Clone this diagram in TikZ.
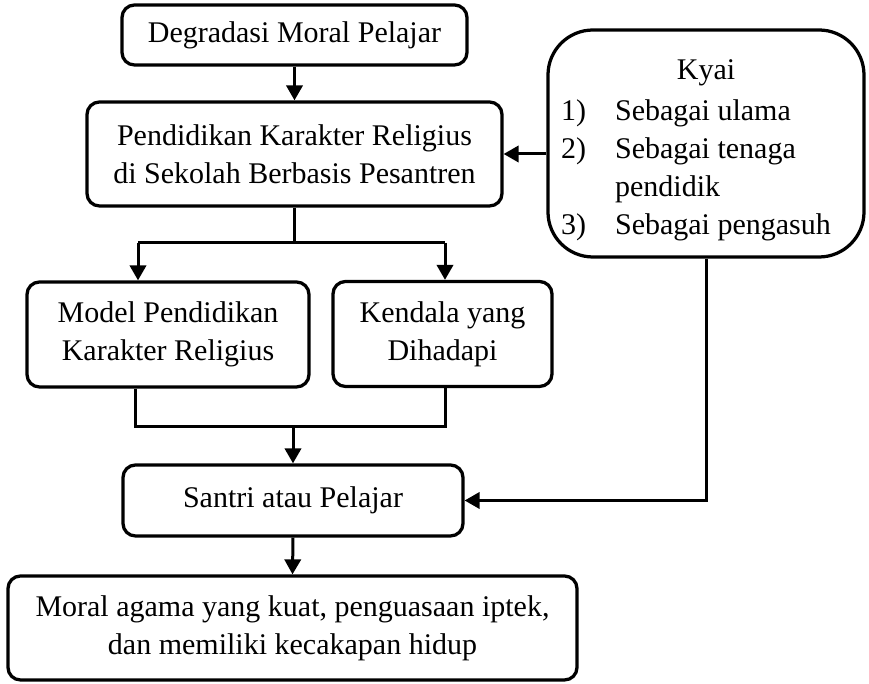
\documentclass[tikz,border=0pt]{standalone}
\usepackage{fontspec}
\setmainfont{Liberation Serif}
\usetikzlibrary{positioning,arrows.meta}
\tikzset{
  box/.style={draw, line width=1.3pt, rounded corners=5pt, align=center,
    inner sep=0pt, font=\fontsize{12}{15.3}\selectfont},
  kyaibox/.style={box, rounded corners=18pt},
  line/.style={line width=1.2pt},
  arr/.style={line, -{Triangle[length=6pt,width=6.5pt]}}
}

\begin{document}
\begin{tikzpicture}[x=0.4pt,y=-0.4pt]
  \useasboundingbox (0,0) rectangle (869,684);

  % Boxes
  \node[box, minimum width=138pt, minimum height=24pt] (degr) at (294.5,35)
    {Degradasi Moral Pelajar};
  \node[box, minimum width=166pt, minimum height=41.6pt] (pend) at (294.5,154)
    {Pendidikan Karakter Religius\\di Sekolah Berbasis Pesantren};
  \node[kyaibox, minimum width=126.4pt, minimum height=90.8pt] (kyai) at (706,143.5)
    {\rule{0pt}{15.5pt}Kyai\\[1pt]\begin{tabular}[t]{@{}p{21.6pt}@{}l@{\hspace{8pt}}}
      1) & Sebagai ulama\\
      2) & Sebagai tenaga\\
         & pendidik\\
      3) & Sebagai pengasuh
    \end{tabular}};
  \node[box, minimum width=112.8pt, minimum height=42pt] (model) at (168,334.5)
    {Model Pendidikan\\Karakter Religius};
  \node[box, minimum width=87.6pt, minimum height=42pt] (kend) at (442.5,334)
    {Kendala yang\\Dihadapi};
  \node[box, minimum width=136pt, minimum height=28.4pt] (santri) at (293,500.5)
    {Santri atau Pelajar};
  \node[box, minimum width=227.6pt, minimum height=41.6pt] (hasil) at (292.5,628)
    {Moral agama yang kuat, penguasaan iptek,\\dan memiliki kecakapan hidup};

  % Branch points
  \coordinate (split) at (294.5,243);
  \coordinate (splitL) at (138,243);
  \coordinate (splitR) at (445,243);
  \coordinate (joinL) at (135,427);
  \coordinate (joinR) at (445,427);

  % Connectors
  \draw[arr] (degr.south) -- (pend.north);
  \draw[line] (pend.south) -- (split);
  \draw[line] (splitL) -- (splitR);
  \draw[arr] (splitL) -- (splitL |- model.north);
  \draw[arr] (splitR) -- (splitR |- kend.north);
  \draw[line] (joinL |- model.south) -- (joinL) -- (joinR) -- (joinR |- kend.south);
  \draw[arr] (santri.north |- joinL) -- (santri.north);
  \draw[arr] (kyai.west |- pend.east) -- (pend.east);
  \draw[arr] (kyai.south) |- (santri.east);
  \draw[arr] (santri.south) -- (hasil.north);
\end{tikzpicture}
\end{document}
